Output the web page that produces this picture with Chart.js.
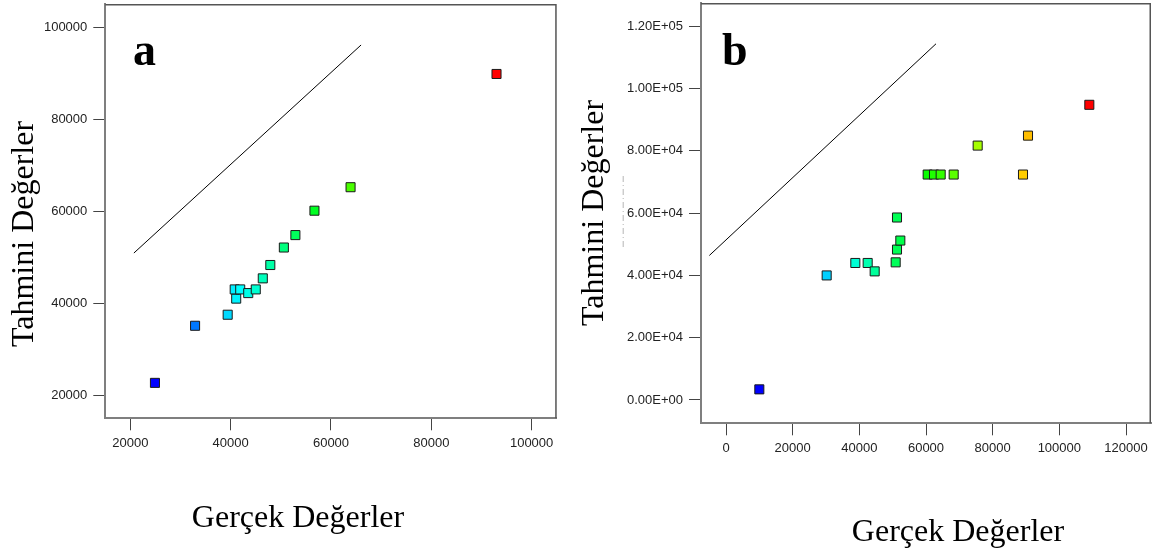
<!DOCTYPE html>
<html>
<head>
<meta charset="utf-8">
<script src="https://cdn.jsdelivr.net/npm/chart.js@4.4.1/dist/chart.umd.min.js"></script>
<style>
  html, body { margin: 0; padding: 0; background: #fff; }
  #wrap { position: relative; width: 1157px; height: 550px; overflow: hidden; background: #fff; }
  canvas { position: absolute; top: 0; }
  #ca { left: 0; }
  #cb { left: 578px; }
</style>
</head>
<body>
<div id="wrap">
  <canvas id="ca" width="578" height="550"></canvas>
  <canvas id="cb" width="579" height="550"></canvas>
</div>
<script>
// Panel a: actual vs predicted values
const actualA    = [24900, 32900, 39400, 41100, 40800, 41900, 43500, 45000, 46400, 47900, 50600, 52900, 56700, 63900, 93000];
const predictedA = [22700, 35100, 37500, 41000, 43000, 43000, 42200, 43000, 45400, 48300, 52100, 54800, 60100, 65200, 89800];
const refLineAx  = [20700, 66000];
const refLineAy  = [50900, 96100];
const ticksA     = [20000, 40000, 60000, 80000, 100000];
const labelsA    = ['20000', '40000', '60000', '80000', '100000'];

// Panel b: actual vs predicted values
const actualB    = [10000, 30200, 38800, 42500, 44600, 50900, 51300, 52300, 51300, 60500, 62400, 64400, 68300, 75500, 89100, 90600, 109000];
const predictedB = [3400, 40000, 44000, 44000, 41300, 44200, 48300, 51200, 58600, 72400, 72400, 72400, 72400, 81700, 72400, 84900, 94800];
const refLineBx  = [-5000, 63000];
const refLineBy  = [46400, 114400];
const ticksBx    = [0, 20000, 40000, 60000, 80000, 100000, 120000];
const labelsBx   = ['0', '20000', '40000', '60000', '80000', '100000', '120000'];
const ticksBy    = [0, 20000, 40000, 60000, 80000, 100000, 120000];
const labelsBy   = ['0.00E+00', '2.00E+04', '4.00E+04', '6.00E+04', '8.00E+04', '1.00E+05', '1.20E+05'];

const xTitle = 'Gerçek Değerler';
const yTitle = 'Tahmini Değerler';

// blue -> cyan -> green -> yellow -> red, by actual value
function rainbow(v, lo, hi) {
  const stops = [[0, 0, 255], [0, 255, 255], [0, 255, 0], [255, 255, 0], [255, 0, 0]];
  let t = (v - lo) / (hi - lo);
  t = Math.max(0, Math.min(1, t));
  const f = t * 4;
  const i = Math.min(3, Math.floor(f));
  const r = f - i;
  const a = stops[i], b = stops[i + 1];
  const c = a.map((x, k) => Math.round(x + (b[k] - x) * r));
  return `rgb(${c[0]},${c[1]},${c[2]})`;
}

// frame edges, panel letter and axis titles
const panelText = {
  id: 'panelText',
  afterDraw(chart, args, o) {
    const ctx = chart.ctx, ca = chart.chartArea;
    ctx.save();
    ctx.strokeStyle = '#555';
    ctx.lineWidth = 1.5;
    ctx.beginPath();
    ctx.moveTo(ca.left, ca.top + 0.75);
    ctx.lineTo(ca.right - 0.75, ca.top + 0.75);
    ctx.lineTo(ca.right - 0.75, ca.bottom);
    ctx.stroke();

    if (o.dash) {
      ctx.strokeStyle = '#b5b5b5';
      ctx.lineWidth = 1;
      ctx.setLineDash([6, 3, 1, 3]);
      ctx.beginPath();
      ctx.moveTo(o.dash[0] + 0.5, o.dash[1]);
      ctx.lineTo(o.dash[0] + 0.5, o.dash[2]);
      ctx.stroke();
      ctx.setLineDash([]);
    }

    ctx.fillStyle = '#000';
    ctx.font = 'bold 46px "Liberation Serif", serif';
    ctx.textAlign = 'left';
    ctx.textBaseline = 'alphabetic';
    ctx.fillText(o.letter, o.letterX, o.letterY);

    ctx.font = '32px "Liberation Serif", serif';
    ctx.textAlign = 'center';
    ctx.fillText(xTitle, o.xTitleX, o.xTitleY);

    ctx.translate(o.yTitleX, o.yTitleY);
    ctx.rotate(-Math.PI / 2);
    ctx.fillText(yTitle, 0, 0);
    ctx.restore();
  }
};

function axis(min, max, values, labels, fitProp, fitSize, pad) {
  return {
    type: 'linear',
    min: min,
    max: max,
    afterBuildTicks: s => { s.ticks = values.map(v => ({ value: v })); },
    afterFit: s => {
      s[fitProp] = fitSize;
      s.paddingTop = 0; s.paddingBottom = 0;
      s.paddingLeft = 0; s.paddingRight = 0;
    },
    ticks: {
      autoSkip: false,
      maxRotation: 0,
      padding: pad,
      color: '#222',
      font: { family: '"Liberation Sans", Arial, sans-serif', size: 13 },
      callback: v => labels[values.indexOf(v)]
    },
    grid: { drawOnChartArea: false, drawTicks: true, tickLength: 12, color: '#444', lineWidth: 1 },
    border: { display: true, color: '#7f7f7f', width: 2 }
  };
}

function makeChart(id, xs, ys, lx, ly, xAxis, yAxis, padding, textOpts) {
  const lo = Math.min(...xs), hi = Math.max(...xs);
  return new Chart(document.getElementById(id), {
    type: 'scatter',
    data: {
      datasets: [
        {
          data: xs.map((x, i) => ({ x: x, y: ys[i] })),
          pointStyle: 'rect',
          pointRadius: 6.4,
          pointBackgroundColor: xs.map(x => rainbow(x, lo, hi)),
          pointBorderColor: '#1a1a1a',
          pointBorderWidth: 1,
          order: 1
        },
        {
          data: lx.map((x, i) => ({ x: x, y: ly[i] })),
          showLine: true,
          borderColor: '#000',
          borderWidth: 1,
          pointRadius: 0,
          order: 2
        }
      ]
    },
    options: {
      responsive: false,
      animation: false,
      devicePixelRatio: 1,
      layout: { padding: padding, autoPadding: false },
      plugins: { legend: { display: false }, tooltip: { enabled: false }, panelText: textOpts },
      scales: { x: xAxis, y: yAxis }
    },
    plugins: [panelText]
  });
}

makeChart('ca', actualA, predictedA, refLineAx, refLineAy,
  axis(15000, 105000, ticksA, labelsA, 'height', 131.7, 5),
  axis(15000, 105000, ticksA, labelsA, 'width', 105.3, 6),
  { left: 0, right: 21.3, top: 4, bottom: 0 },
  { letter: 'a', letterX: 133, letterY: 65, xTitleX: 298, xTitleY: 527, yTitleX: 33, yTitleY: 234 });

makeChart('cb', actualB, predictedB, refLineBx, refLineBy,
  axis(-7500, 127500, ticksBx, labelsBx, 'height', 126.7, 5),
  axis(-7500, 127500, ticksBy, labelsBy, 'width', 123, 6),
  { left: 0, right: 6, top: 3, bottom: 0 },
  { letter: 'b', letterX: 144, letterY: 65, xTitleX: 380, xTitleY: 541, yTitleX: 25, yTitleY: 213, dash: [44.7, 176, 248] });
</script>
</body>
</html>
